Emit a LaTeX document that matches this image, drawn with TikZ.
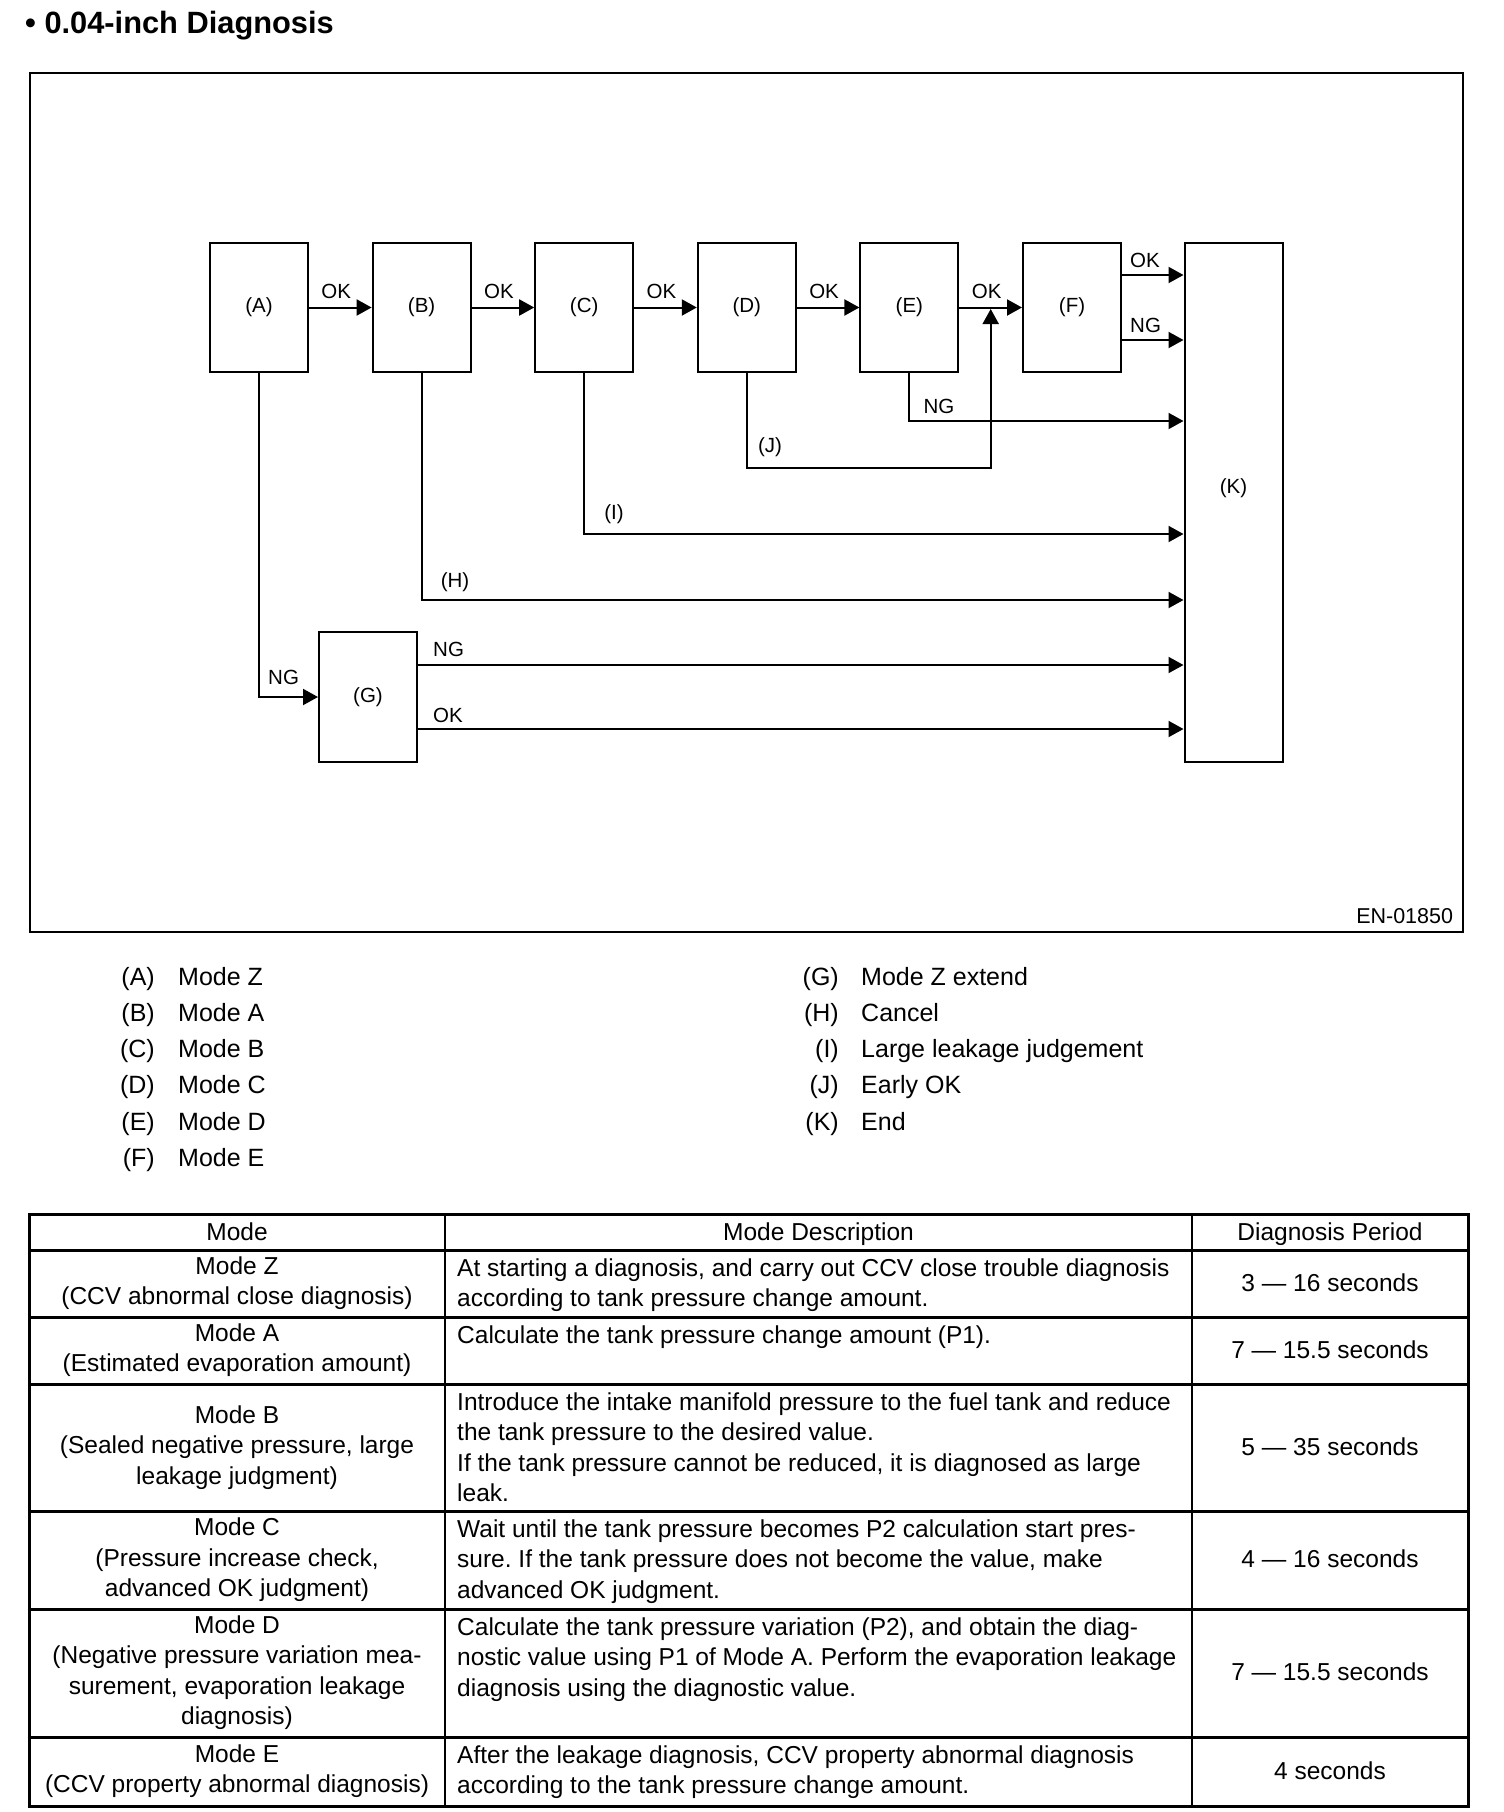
\documentclass[tikz,border=0pt]{standalone}
\usepackage{fontspec}
\setmainfont{Liberation Sans}
\usetikzlibrary{arrows.meta,calc}
\frenchspacing
\begin{document}
\begin{tikzpicture}[x=1pt,y=-1pt,
  box/.style={draw, line width=2pt, minimum width=98pt, minimum height=129pt, inner sep=0pt, font=\fontsize{20.5}{24}\selectfont},
  arr/.style={line width=2pt, -{Triangle[length=15pt,width=16pt]}},
  lbl/.style={inner sep=0pt, font=\fontsize{20.5}{24}\selectfont},
  leg/.style={inner sep=0pt, font=\fontsize{25}{30}\selectfont},
  cell/.style={inner sep=0pt, font=\fontsize{24.5}{30.5}\selectfont},
  tline/.style={line width=3pt},
]
\useasboundingbox (0,0) rectangle (1504,1812);

% title
\node[anchor=base west, inner sep=0pt, font=\fontsize{30.8}{36}\selectfont\bfseries] (title) at (25,33) {\textbullet\ 0.04-inch Diagnosis};

% frame
\node[draw, line width=2.5pt, minimum width=1433pt, minimum height=859pt, inner sep=0pt] (frame) at (746.5,502.5) {};
\node[anchor=base east, inner sep=0pt, font=\fontsize{21.5}{26}\selectfont] (en) at ([xshift=-11pt,yshift=10pt]frame.south east) {EN-01850};

% boxes
\node[box] (A) at (259,307.5) {(A)};
\node[box] (B) at (421.6,307.5) {(B)};
\node[box] (C) at (584.2,307.5) {(C)};
\node[box] (D) at (746.8,307.5) {(D)};
\node[box] (E) at (909.4,307.5) {(E)};
\node[box] (F) at (1072,307.5) {(F)};
\node[box, minimum height=519pt] (K) at (1233.5,502.5) {};
\node[lbl] (Klbl) at ([yshift=14.5pt]K.center) {(K)};
\node[box, minimum height=130pt] (G) at (368,697) {(G)};

% main row
\draw[arr] (A) -- node[lbl, above=8pt, xshift=-4pt] (okAB) {OK} (B);
\draw[arr] (B) -- node[lbl, above=8pt, xshift=-4pt] (okBC) {OK} (C);
\draw[arr] (C) -- node[lbl, above=8pt, xshift=-4pt] (okCD) {OK} (D);
\draw[arr] (D) -- node[lbl, above=8pt, xshift=-4pt] (okDE) {OK} (E);
\draw[arr] (E) -- node[lbl, above=8pt, xshift=-4pt] (okEF) {OK} (F);

% F to K
\draw[arr] ([yshift=32.5pt]F.east) -- ([yshift=32.5pt]F.east -| K.west);
\node[lbl, anchor=south west] (okFK) at ([xshift=8pt,yshift=39.5pt]F.east) {OK};
\draw[arr] ([yshift=-32.5pt]F.east) -- ([yshift=-32.5pt]F.east -| K.west);
\node[lbl, anchor=south west] (ngFK) at ([xshift=8pt,yshift=-25.5pt]F.east) {NG};

% E NG
\coordinate (eBend) at (E.south |- 0,421);
\draw[arr] (E.south) -- (eBend) -- (eBend -| K.west);
\node[lbl, anchor=south west] (ngE) at ([xshift=14pt,yshift=7pt]eBend) {NG};

% D early OK (J)
\coordinate (dBend) at (D.south |- 0,468);
\coordinate (jtip) at ($(E.east)!0.5!(F.west)+(0,1.5)$);
\draw[arr] (D.south) -- (dBend) -| (jtip);
\node[lbl, anchor=south west] (jl) at ([xshift=11pt,yshift=11pt]dBend) {(J)};

% C (I)
\coordinate (cBend) at (C.south |- 0,534);
\draw[arr] (C.south) -- (cBend) -- (cBend -| K.west);
\node[lbl, anchor=south west] (il) at ([xshift=20pt,yshift=10pt]cBend) {(I)};

% B (H)
\coordinate (bBend) at (B.south |- 0,600);
\draw[arr] (B.south) -- (bBend) -- (bBend -| K.west);
\node[lbl, anchor=south west] (hl) at ([xshift=19pt,yshift=8pt]bBend) {(H)};

% A NG to G
\coordinate (aBend) at (A.south |- G.west);
\draw[arr] (A.south) -- (aBend) -- (G.west);
\node[lbl, anchor=south west] (ngA) at ([xshift=9pt,yshift=12pt]aBend) {NG};

% G to K
\draw[arr] ([yshift=32pt]G.east) -- ([yshift=32pt]G.east -| K.west);
\node[lbl, anchor=south west] (ngG) at ([xshift=15pt,yshift=40pt]G.east) {NG};
\draw[arr] ([yshift=-32pt]G.east) -- ([yshift=-32pt]G.east -| K.west);
\node[lbl, anchor=south west] (okG) at ([xshift=15pt,yshift=-26pt]G.east) {OK};

% legend
\foreach \k/\t [count=\i from 0] in {A/Mode Z, B/Mode A, C/Mode B, D/Mode C, E/Mode D, F/Mode E} {
  \node[leg, anchor=base east] (lk\k) at (155,{985+36.3*\i}) {(\k)};
  \node[leg, anchor=base west] (lt\k) at (178,{985+36.3*\i}) {\t};
}
\foreach \k/\t [count=\i from 0] in {G/Mode Z extend, H/Cancel, I/Large leakage judgement, J/Early OK, K/End} {
  \node[leg, anchor=base east] (lk\k) at (839,{985+36.3*\i}) {(\k)};
  \node[leg, anchor=base west] (lt\k) at (861,{985+36.3*\i}) {\t};
}

% table
\draw[tline] (29,1214) rectangle (1468,1806);
\foreach \y in {1250,1317,1384,1511,1609,1737} \draw[tline] (29,\y) -- (1468,\y);
\foreach \x in {445,1192} \draw[line width=2.5pt] (\x,1214) -- (\x,1806);

\node[cell, anchor=base] (h1) at (237,1240) {Mode};
\node[cell, anchor=base] (h2) at (818.5,1240) {Mode Description};
\node[cell, anchor=base] (h3) at (1330,1240) {Diagnosis Period};

\node[cell, align=center] (z1) at (237,1283.5) {\strut Mode Z\\(CCV abnormal close diagnosis)\strut};
\node[cell, align=left, anchor=north west] (z2) at (457,1254.5) {\strut At starting a diagnosis, and carry out CCV close trouble diagnosis\\according to tank pressure change amount.};
\node[cell, anchor=base] (z3) at (1330,1291.3) {3 — 16 seconds};

\node[cell, align=center] (a1) at (237,1350.5) {\strut Mode A\\(Estimated evaporation amount)\strut};
\node[cell, align=left, anchor=north west] (a2) at (457,1321.5) {\strut Calculate the tank pressure change amount (P1).};
\node[cell, anchor=base] (a3) at (1330,1358.3) {7 — 15.5 seconds};

\node[cell, align=center] (b1) at (237,1447.5) {\strut Mode B\\(Sealed negative pressure, large\\leakage judgment)\strut};
\node[cell, align=left, anchor=north west] (b2) at (457,1388.5) {\strut Introduce the intake manifold pressure to the fuel tank and reduce\\the tank pressure to the desired value.\\If the tank pressure cannot be reduced, it is diagnosed as large\\leak.};
\node[cell, anchor=base] (b3) at (1330,1455.3) {5 — 35 seconds};

\node[cell, align=center] (c1) at (237,1560) {\strut Mode C\\(Pressure increase check,\\advanced OK judgment)\strut};
\node[cell, align=left, anchor=north west] (c2) at (457,1515.5) {\strut Wait until the tank pressure becomes P2 calculation start pres-\\sure. If the tank pressure does not become the value, make\\advanced OK judgment.};
\node[cell, anchor=base] (c3) at (1330,1567.8) {4 — 16 seconds};

\node[cell, align=center] (d1) at (237,1673) {\strut Mode D\\(Negative pressure variation mea-\\surement, evaporation leakage\\diagnosis)\strut};
\node[cell, align=left, anchor=north west] (d2) at (457,1613.5) {\strut Calculate the tank pressure variation (P2), and obtain the diag-\\nostic value using P1 of Mode A. Perform the evaporation leakage\\diagnosis using the diagnostic value.};
\node[cell, anchor=base] (d3) at (1330,1680.8) {7 — 15.5 seconds};

\node[cell, align=center] (e1) at (237,1771.5) {\strut Mode E\\(CCV property abnormal diagnosis)\strut};
\node[cell, align=left, anchor=north west] (e2) at (457,1741.5) {\strut After the leakage diagnosis, CCV property abnormal diagnosis\\according to the tank pressure change amount.};
\node[cell, anchor=base] (e3) at (1330,1779.3) {4 seconds};
\end{tikzpicture}
\end{document}
